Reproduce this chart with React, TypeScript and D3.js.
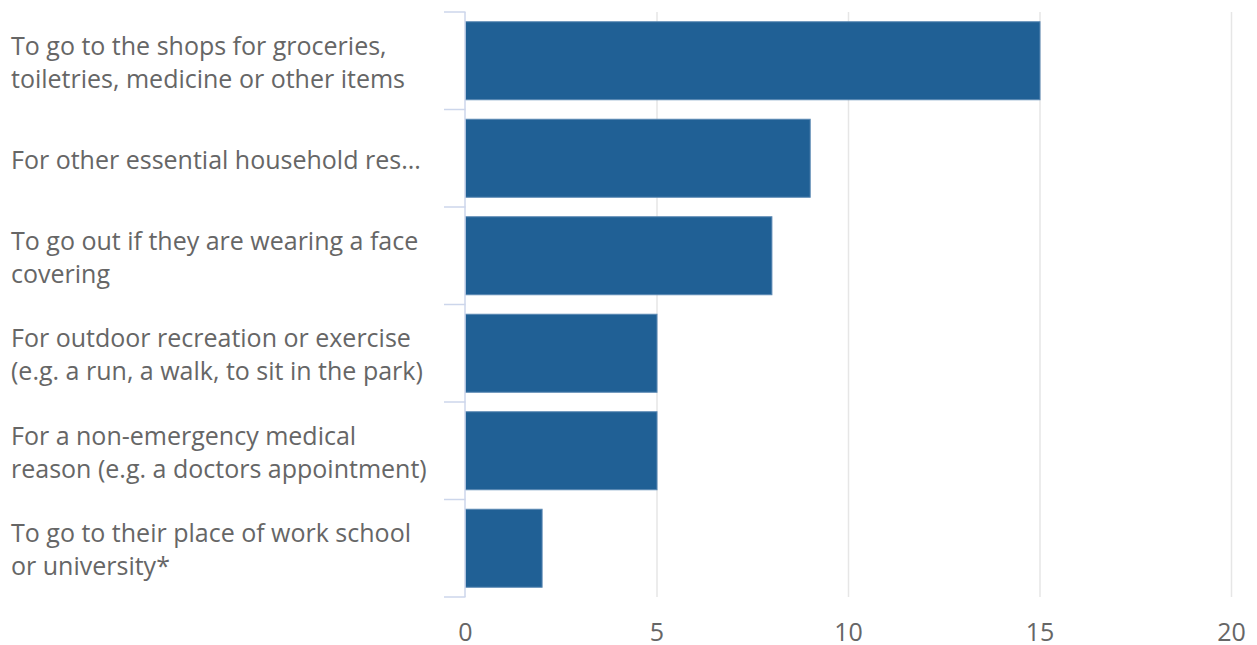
import React from "react";
import * as d3 from "d3";

const categories: string[][] = [
  ["To go to the shops for groceries,", "toiletries, medicine or other items"],
  ["For other essential household res..."],
  ["To go out if they are wearing a face", "covering"],
  ["For outdoor recreation or exercise", "(e.g. a run, a walk, to sit in the park)"],
  ["For a non-emergency medical", "reason (e.g. a doctors appointment)"],
  ["To go to their place of work school", "or university*"],
];
const values: number[] = [15, 9, 8, 5, 5, 2];
const xTicks: number[] = [0, 5, 10, 15, 20];

const W = 1257;
const H = 645;
const left = 465.5;
const right = 1231.5;
const top = 12;
const bottom = 597;
const FONT = "'Open Sans', sans-serif";
const FS = 25;
const LH = 33.3;

export default function App() {
  const x = d3.scaleLinear().domain([0, 20]).range([left, right]);
  const y = d3
    .scaleBand<number>()
    .domain(values.map((_, i) => i))
    .range([top, bottom])
    .paddingInner(0.2)
    .paddingOuter(0.1);
  const band = d3.scaleBand<number>().domain(values.map((_, i) => i)).range([top, bottom]);
  const step = band.step();

  return (
    <svg
      width={W}
      height={H}
      style={{ position: "absolute", left: 0, top: 0, background: "#fff" }}
      fontFamily={FONT}
    >
      {xTicks.slice(1).map((t) => (
        <line key={t} x1={x(t)} x2={x(t)} y1={top} y2={bottom} stroke="#e6e6e6" strokeWidth={1.5} />
      ))}
      {values.map((v, i) => (
        <rect
          key={i}
          x={x(0)}
          y={y(i)!}
          width={x(v) - x(0)}
          height={y.bandwidth()}
          fill="#206095"
          stroke="#5a88b3"
          strokeWidth={1}
        />
      ))}
      <line x1={left - 0.5} x2={left - 0.5} y1={top} y2={bottom} stroke="#ccd6eb" strokeWidth={1.5} />
      {d3.range(values.length + 1).map((i) => {
        const yy = top + i * step;
        return <line key={i} x1={444} x2={left} y1={yy} y2={yy} stroke="#ccd6eb" strokeWidth={1.5} />;
      })}
      {categories.map((lines, i) => {
        const c = band(i)! + step / 2;
        const first = c - ((lines.length - 1) * LH) / 2 + 10.5;
        return (
          <text key={i} x={11} y={first} fontSize={FS} fill="#666666">
            {lines.map((l, j) => (
              <tspan key={j} x={11} y={first + j * LH}>
                {l}
              </tspan>
            ))}
          </text>
        );
      })}
      {xTicks.map((t) => (
        <text key={t} x={x(t)} y={640.5} fontSize={FS} fill="#666666" textAnchor="middle">
          {t}
        </text>
      ))}
    </svg>
  );
}
